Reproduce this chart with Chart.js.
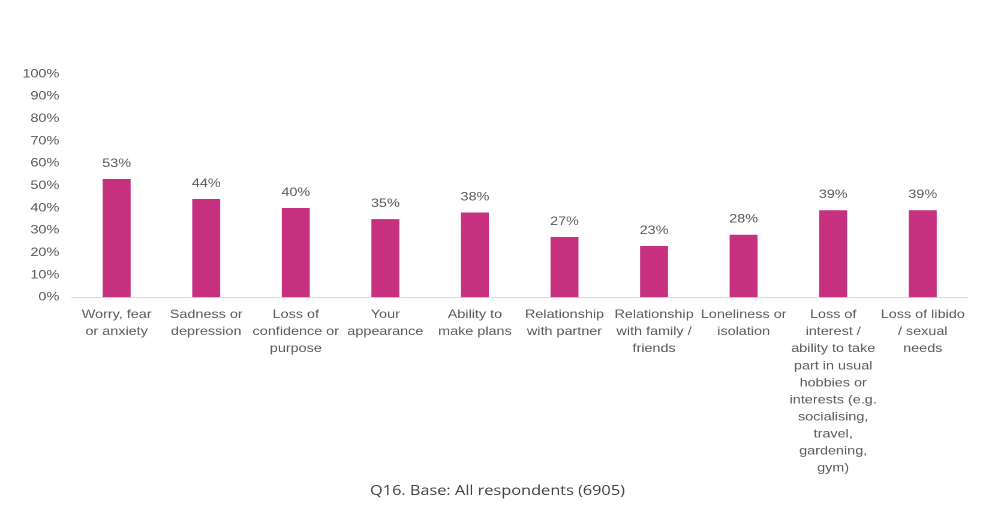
<!DOCTYPE html>
<html>
<head>
<meta charset="utf-8">
<script src="https://cdn.jsdelivr.net/npm/chart.js@4/dist/chart.umd.min.js"></script>
<style>
html,body{margin:0;padding:0;background:#fff;overflow:hidden;}
#wrap{width:1004px;height:513px;overflow:hidden;}
#c{display:block;transform:scaleX(1.19952);transform-origin:0 0;}
</style>
</head>
<body>
<div id="wrap"><canvas id="c" width="837" height="513" style="width:837px;height:513px"></canvas></div>
<script>
const categories = [
  ["Worry, fear","or anxiety"],
  ["Sadness or","depression"],
  ["Loss of","confidence or","purpose"],
  ["Your","appearance"],
  ["Ability to","make plans"],
  ["Relationship","with partner"],
  ["Relationship","with family /","friends"],
  ["Loneliness or","isolation"],
  ["Loss of","interest /","ability to take","part in usual","hobbies or","interests (e.g.","socialising,","travel,","gardening,","gym)"],
  ["Loss of libido","/ sexual","needs"]
];
const values = [53, 44, 40, 35, 38, 27, 23, 28, 39, 39];
const yTicks = [0,10,20,30,40,50,60,70,80,90,100];
const titleText = "Q16. Base: All respondents (6905)";

const valueLabels = {
  id: 'valueLabels',
  afterDatasetsDraw(chart) {
    const ctx = chart.ctx;
    const meta = chart.getDatasetMeta(0);
    ctx.save();
    ctx.font = '12px "Liberation Sans", Arial, sans-serif';
    ctx.fillStyle = '#595959';
    ctx.textAlign = 'center';
    ctx.textBaseline = 'middle';
    meta.data.forEach((bar, i) => {
      ctx.fillText(values[i] + '%', bar.x, bar.y - 15.5);
    });
    ctx.restore();
  }
};

const bottomTitle = {
  id: 'bottomTitle',
  afterDraw(chart) {
    const ctx = chart.ctx;
    ctx.save();
    ctx.font = '13.6px "Open Sans", sans-serif';
    ctx.fillStyle = '#404040';
    ctx.textAlign = 'center';
    ctx.textBaseline = 'middle';
    ctx.fillText(titleText, chart.width * 0.4955, chart.height - 22);
    ctx.restore();
  }
};

new Chart(document.getElementById('c'), {
  type: 'bar',
  data: {
    labels: categories,
    datasets: [{
      data: values,
      backgroundColor: '#C7307F',
      borderWidth: 0,
      barPercentage: 0.312,
      categoryPercentage: 1.0
    }]
  },
  options: {
    responsive: false,
    animation: false,
    devicePixelRatio: 2,
    layout: { padding: { top: 74, left: 0, right: 30.4, bottom: 0 } },
    plugins: {
      legend: { display: false },
      tooltip: { enabled: false },
      title: { display: false }
    },
    scales: {
      x: {
        grid: { display: false, drawTicks: false },
        border: { display: true, color: '#D9D9D9', width: 1 },
        ticks: {
          autoSkip: false, maxRotation: 0, minRotation: 0,
          padding: 9,
          color: '#595959',
          font: { family: '"Liberation Sans", Arial, sans-serif', size: 12, lineHeight: 1.42 }
        },
        afterFit(scale) { scale.height = 215.7; }
      },
      y: {
        min: 0, max: 100,
        afterBuildTicks(scale) { scale.ticks = yTicks.map(v => ({ value: v })); },
        grid: { display: false, drawTicks: false },
        border: { display: false },
        ticks: {
          padding: 10.5,
          color: '#595959',
          font: { family: '"Liberation Sans", Arial, sans-serif', size: 12 },
          callback: v => v + '%'
        },
        afterFit(scale) { scale.width = 59.9; }
      }
    }
  },
  plugins: [valueLabels, bottomTitle]
});
</script>
</body>
</html>
